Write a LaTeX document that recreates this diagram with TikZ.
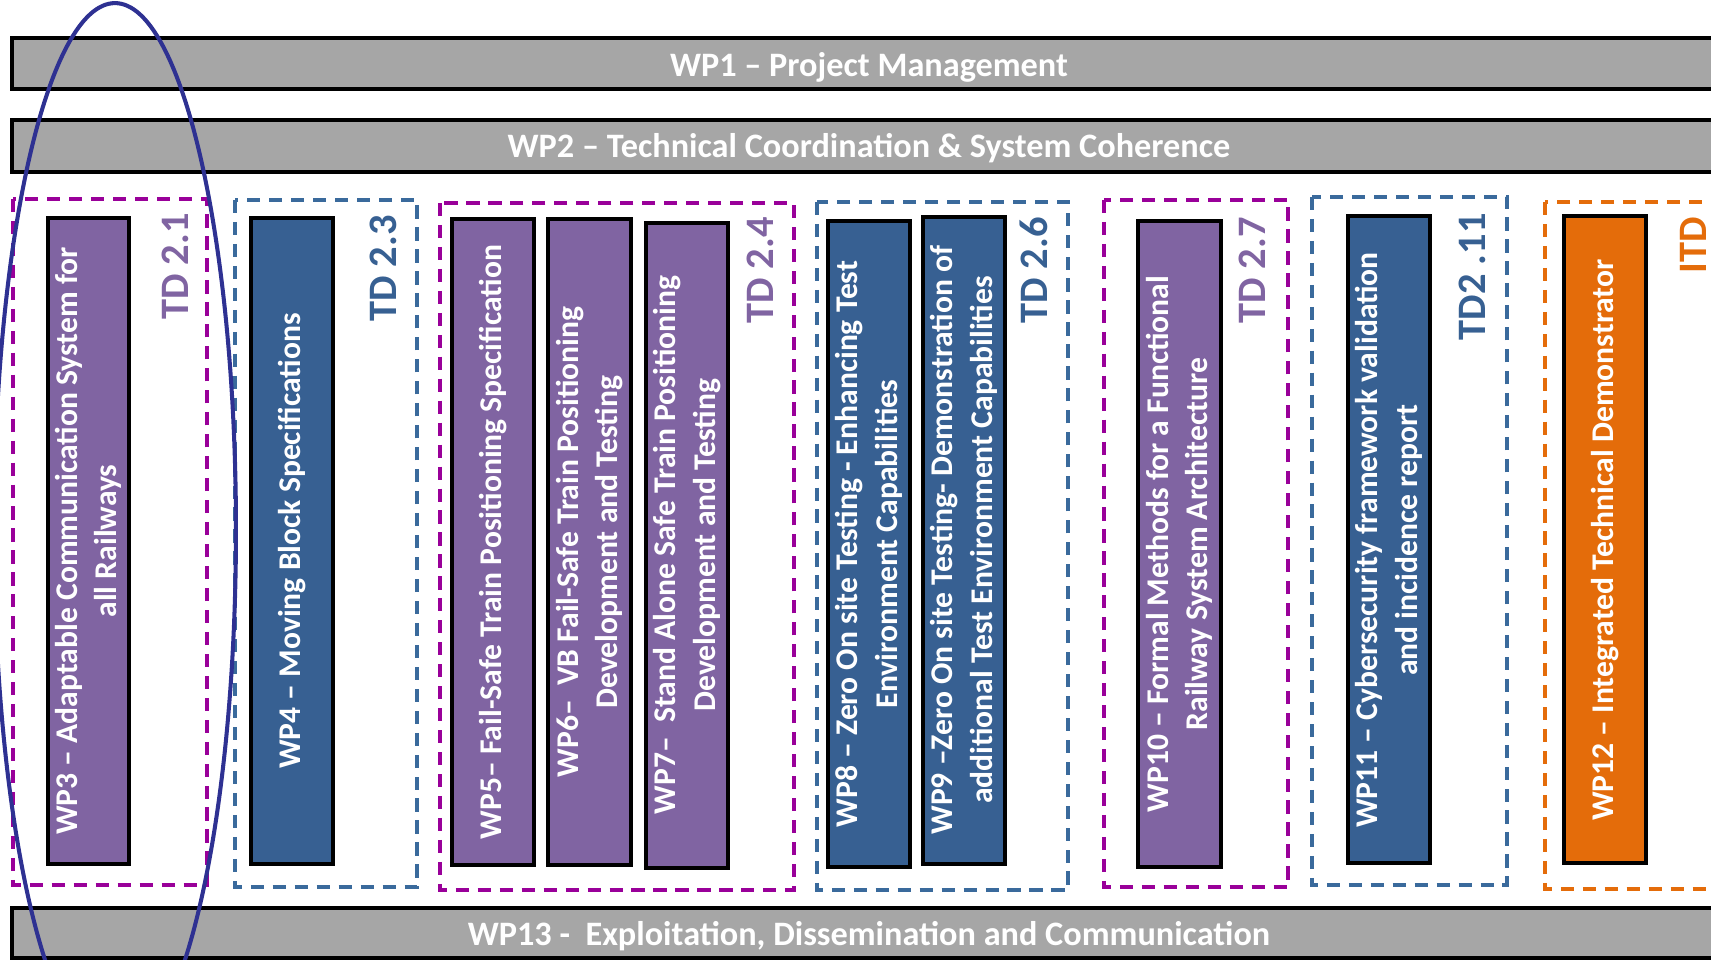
\documentclass[tikz,border=0pt]{standalone}
\usepackage{fontspec}
\setmainfont{Carlito}
\usepackage{tikz}
\definecolor{wpgray}{HTML}{A6A6A6}
\definecolor{wppurple}{HTML}{8064A2}
\definecolor{wpblue}{HTML}{376092}
\definecolor{wporange}{HTML}{E46C0A}
\definecolor{tdmagenta}{HTML}{990099}
\definecolor{tdblue}{HTML}{3A6A9C}
\definecolor{ringblue}{HTML}{2E3192}
\tikzstyle{bar} = [draw=black,line width=2pt,fill=wpgray]
\tikzstyle{bartext} = [text=white,font=\bfseries\fontsize{19.5}{23}\selectfont]
\tikzstyle{wpbox} = [draw=black,line width=2pt]
\tikzstyle{wptext} = [text=white,rotate=90,align=center,font=\bfseries\fontsize{18}{22.5}\selectfont]
\tikzstyle{tdframe} = [line width=2.1pt,dash pattern=on 7.5pt off 5pt]
\tikzstyle{tdlabel} = [rotate=90,anchor=east,inner sep=0pt,font=\bfseries\fontsize{23}{27}\selectfont]

\begin{document}
\begin{tikzpicture}[x=0.02cm,y=-0.02cm]   % one unit = one pixel of the sheet

%		\draw[help lines,step=100] (0,0) grid (1711,960);
        \useasboundingbox (0,0) rectangle (1711,960);

        % Project wide work packages
        \draw[bar] (12,38) rectangle (1730,89);
        \node[bartext] (wp1) at (869,67) {WP1 – Project Management};

        \draw[bar] (12,120) rectangle (1730,172);
        \node[bartext] (wp2) at (869,148) {WP2 – Technical Coordination \& System Coherence};

        \draw[bar] (12,908) rectangle (1730,958);
        \node[bartext] (wp13) at (869,936) {WP13 -\ \ Exploitation, Dissemination and Communication};

        % Dashed frames of the technical demonstrators
        \draw[tdframe,draw=tdmagenta] (13,199) rectangle (207,885);     % TD 2.1
        \draw[tdframe,draw=tdblue] (235,200) rectangle (417,887);       % TD 2.3
        \draw[tdframe,draw=tdmagenta] (440,203) rectangle (794,890);    % TD 2.4
        \draw[tdframe,draw=tdblue] (817,202) rectangle (1068,890);      % TD 2.6
        \draw[tdframe,draw=tdmagenta] (1104,200) rectangle (1288,887);  % TD 2.7
        \draw[tdframe,draw=tdblue] (1312,197) rectangle (1507,885);     % TD 2.11
        \draw[tdframe,draw=wporange] (1545,202) rectangle (1760,889);   % ITD

        % TD 2.1
        \draw[wpbox,fill=wppurple] (48,218) rectangle (129,864);
        \node[wptext] (wp3) at (88.5,541) {WP3 – Adaptable Communication System for\\all Railways};
        \node[tdlabel,text=wppurple] (td21) at (175,213) {TD 2.1};

        % TD 2.3
        \draw[wpbox,fill=wpblue] (251,218) rectangle (333,864);
        \node[wptext] (wp4) at (292,541) {WP4 – Moving Block Specifications};
        \node[tdlabel,text=wpblue] (td23) at (383,215) {TD 2.3};

        % TD 2.4
        \draw[wpbox,fill=wppurple] (452,219) rectangle (534,865);
        \node[wptext] (wp5) at (493,542) {WP5– Fail-Safe Train Positioning Specification};
        \draw[wpbox,fill=wppurple] (548,219) rectangle (631,865);
        \node[wptext] (wp6) at (589.5,542) {WP6–\ \ VB Fail-Safe Train Positioning\\Development and Testing};
        \draw[wpbox,fill=wppurple] (646,223) rectangle (728,868);
        \node[wptext] (wp7) at (687,545) {WP7–\ \ Stand Alone Safe Train Positioning\\Development and Testing};
        \node[tdlabel,text=wppurple] (td24) at (760,217) {TD 2.4};

        % TD 2.6
        \draw[wpbox,fill=wpblue] (828,221) rectangle (910,867);
        \node[wptext] (wp8) at (869,544) {WP8 – Zero On site Testing - Enhancing Test\\Environment Capabilities};
        \draw[wpbox,fill=wpblue] (923,217) rectangle (1005,864);
        \node[wptext] (wp9) at (964,540) {WP9 –Zero On site Testing- Demonstration of\\additional Test Environment Capabilities};
        \node[tdlabel,text=wpblue] (td26) at (1034,217) {TD 2.6};

        % TD 2.7
        \draw[wpbox,fill=wppurple] (1138,221) rectangle (1221,867);
        \node[wptext] (wp10) at (1179.5,544) {WP10 – Formal Methods for a Functional\\Railway System Architecture};
        \node[tdlabel,text=wppurple] (td27) at (1252,217) {TD 2.7};

        % TD 2.11
        \draw[wpbox,fill=wpblue] (1348,216) rectangle (1430,863);
        \node[wptext] (wp11) at (1389,540) {WP11 – Cybersecurity framework validation\\and incidence report};
        \node[tdlabel,text=wpblue] (td211) at (1472,213) {TD2 .11};

        % ITD
        \draw[wpbox,fill=wporange] (1564,216) rectangle (1646,863);
        \node[wptext] (wp12) at (1605,540) {WP12 – Integrated Technical Demonstrator};
        \node[tdlabel,text=wporange] (itd) at (1693,217) {ITD};

        % Ring round the TD 2.1 column
        \draw[line width=2.3pt,draw=ringblue] (115,530) ellipse [x radius=2.42cm,y radius=10.54cm];

\end{tikzpicture}
\end{document}
